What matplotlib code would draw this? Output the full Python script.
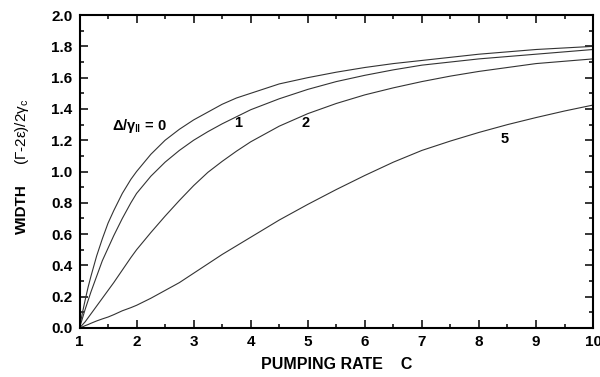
import matplotlib.pyplot as plt
from matplotlib.ticker import MultipleLocator

plt.rcParams['font.family'] = ['Liberation Sans', 'DejaVu Sans']
plt.rcParams['mathtext.default'] = 'regular'

# pumping rate C
pump = [1.0, 1.05, 1.1, 1.15, 1.2, 1.3, 1.4, 1.5, 1.6, 1.75, 1.9, 2.0, 2.25, 2.5, 2.75, 3.0,
        3.25, 3.5, 3.75, 4.0, 4.5, 5.0, 5.5, 6.0, 6.5, 7.0, 7.5, 8.0, 8.5, 9.0, 9.5, 10.0]

# width (Gamma - 2 eps) / 2 gamma_c for detuning Delta/gamma_par = 0, 1, 2, 5
width_d0 = [0.0, 0.095, 0.18, 0.26, 0.33, 0.46, 0.57, 0.67, 0.75, 0.86, 0.95, 1.0, 1.11, 1.2, 1.27, 1.33,
            1.38, 1.43, 1.47, 1.5, 1.56, 1.6, 1.635, 1.665, 1.69, 1.71, 1.73, 1.75, 1.765, 1.78, 1.79, 1.8]
width_d1 = [0.0, 0.06, 0.12, 0.175, 0.23, 0.33, 0.43, 0.51, 0.59, 0.7, 0.8, 0.86, 0.97, 1.06, 1.135, 1.2,
            1.255, 1.305, 1.35, 1.395, 1.465, 1.525, 1.575, 1.615, 1.65, 1.68, 1.7, 1.72, 1.735, 1.75, 1.765, 1.78]
width_d2 = [0.0, 0.02, 0.04, 0.065, 0.09, 0.14, 0.19, 0.24, 0.29, 0.37, 0.45, 0.5, 0.61, 0.715, 0.815, 0.91,
            0.995, 1.065, 1.13, 1.19, 1.29, 1.37, 1.435, 1.49, 1.535, 1.575, 1.61, 1.64, 1.665, 1.69, 1.705, 1.72]
width_d5 = [0.0, 0.007, 0.015, 0.022, 0.03, 0.045, 0.058, 0.07, 0.085, 0.11, 0.13, 0.145, 0.19, 0.24, 0.29, 0.35,
            0.41, 0.47, 0.525, 0.58, 0.69, 0.79, 0.885, 0.975, 1.06, 1.135, 1.195, 1.25, 1.3, 1.345, 1.387, 1.425]

fig = plt.figure(figsize=(6, 3.77), dpi=100)
ax = fig.add_axes([0.1325, 0.13, 0.856, 0.83])

for w in [width_d0, width_d1, width_d2, width_d5]:
    ax.plot(pump, w, color='#333333', lw=0.8)

ax.set_xlim(1, 10)
ax.set_ylim(0, 2.0)
ax.xaxis.set_major_locator(MultipleLocator(1))
ax.xaxis.set_minor_locator(MultipleLocator(0.5))
ax.yaxis.set_major_locator(MultipleLocator(0.2))
ax.yaxis.set_minor_locator(MultipleLocator(0.1))
ax.tick_params(which='both', direction='in', top=True, right=True, width=1.1)
ax.tick_params(which='major', length=6, labelsize=11, pad=5)
ax.tick_params(which='minor', length=3)
ax.set_xticklabels([str(int(v)) for v in ax.get_xticks()], fontweight='bold')
ax.set_yticklabels(['%.1f' % v for v in ax.get_yticks()], fontweight='bold')
for s in ax.spines.values():
    s.set_linewidth(1.5)

ax.set_xlabel('PUMPING RATE    C', fontsize=11.5, fontweight='bold', labelpad=6)

fig.text(0.037, 0.446, 'WIDTH', rotation=90, fontsize=11, fontweight='bold',
         ha='center', va='center')
fig.text(0.037, 0.65, r'($\Gamma$-2$\epsilon$)/2$\gamma_c$', rotation=90, fontsize=11,
         ha='center', va='center')

ax.text(1.57, 1.29, r'$\Delta/\gamma_{\Vert}$ = 0', fontsize=10.5, fontweight='bold', va='center')
ax.text(3.78, 1.31, '1', fontsize=10.5, fontweight='bold', ha='center', va='center')
ax.text(4.97, 1.31, '2', fontsize=10.5, fontweight='bold', ha='center', va='center')
ax.text(8.45, 1.21, '5', fontsize=10.5, fontweight='bold', ha='center', va='center')

fig.savefig('out.png', dpi=100)
